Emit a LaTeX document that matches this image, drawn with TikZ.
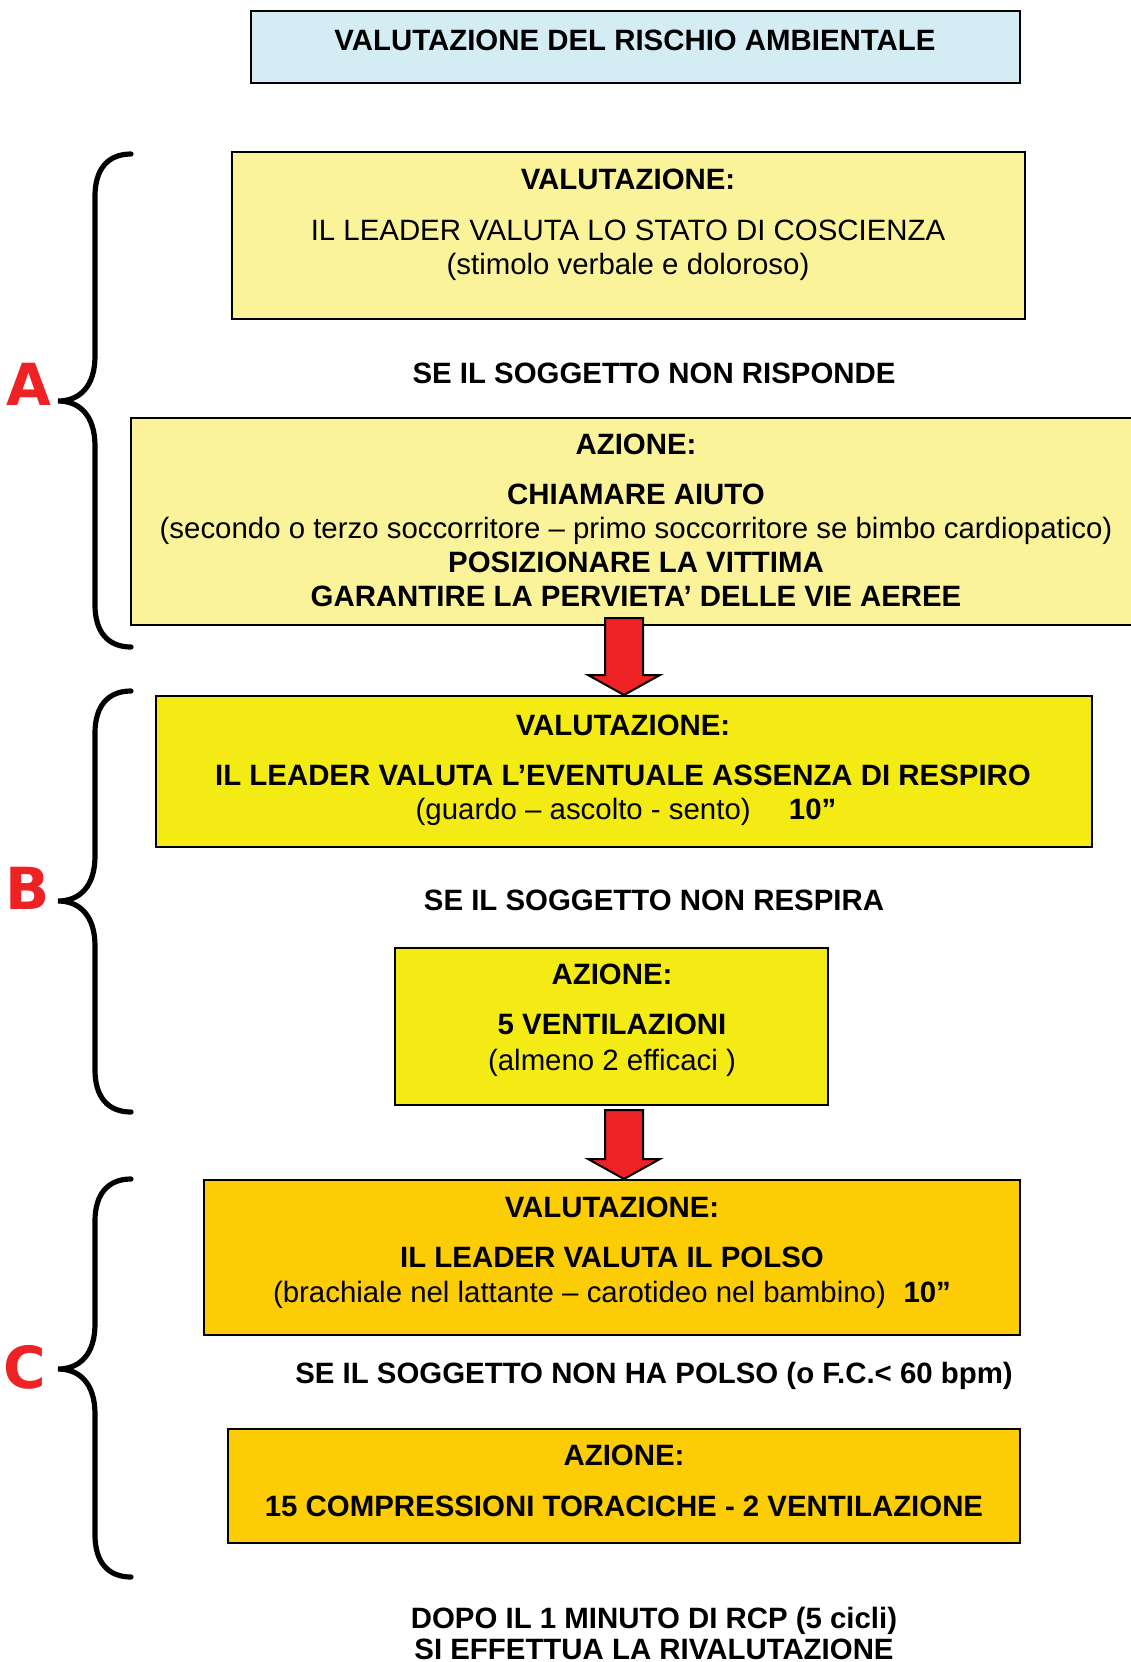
\documentclass[tikz,border=0pt]{standalone}
\usepackage{fontspec}
\setmainfont{Liberation Sans}
\newfontfamily\letterfont{DejaVu Sans}
\usetikzlibrary{fit}

\definecolor{skyfill}{RGB}{212,237,244}
\definecolor{paleyellow}{RGB}{250,243,154}
\definecolor{brightyellow}{RGB}{244,235,20}
\definecolor{deepyellow}{RGB}{252,204,5}
\definecolor{arrowred}{RGB}{238,33,36}

\tikzset{
  box/.style={draw, line width=1pt, inner sep=0pt},
  txt/.style={font=\fontsize{14.7}{17}\selectfont, inner sep=0pt, text height=10.5pt, text depth=0pt},
  bold/.style={txt, font=\fontsize{14.7}{17}\selectfont\bfseries},
  brace/.style={line width=2.6pt, line cap=round},
  letter/.style={text=arrowred, inner sep=0pt, font=\fontsize{29}{34}\selectfont\letterfont\bfseries},
  blockarrow/.style={fill=arrowred, draw, line width=1pt, line join=miter},
}

\begin{document}
\begin{tikzpicture}[x=0.5pt,y=-0.5pt]
    \useasboundingbox (0,0) rectangle (1131,1662);
    \clip (0,0) rectangle (1131,1662);

    % Top box
    \node[box, fill=skyfill, fit={(251,11) (1020,83)}] (rischio) {};
    \node[bold] (rischiot) at (635,40) {VALUTAZIONE DEL RISCHIO AMBIENTALE};

    % Block A
    \node[box, fill=paleyellow, fit={(232,152) (1025,319)}] (valA) {};
    \node[bold] (valAt) at (628,179) {VALUTAZIONE:};
    \node[txt] (valAl) at (628,230) {IL LEADER VALUTA LO STATO DI COSCIENZA};
    \node[txt] (valAs) at (628,264) {(stimolo verbale e doloroso)};

    \node[bold] (condA) at (654,373) {SE IL SOGGETTO NON RISPONDE};

    \node[box, fill=paleyellow, fit={(131,418) (1140,625)}] (azA) {};
    \node[bold] (azAt) at (636,444) {AZIONE:};
    \node[bold] (azA1) at (636,494) {CHIAMARE AIUTO};
    \node[txt] (azA2) at (636,528) {(secondo o terzo soccorritore -- primo soccorritore se bimbo cardiopatico)};
    \node[bold] (azA3) at (636,562) {POSIZIONARE LA VITTIMA};
    \node[bold] (azA4) at (636,596) {GARANTIRE LA PERVIETA’ DELLE VIE AEREE};

    % Block B
    \node[box, fill=brightyellow, fit={(156,696) (1092,847)}] (valB) {};
    \node[bold] (valBt) at (623,725) {VALUTAZIONE:};
    \node[bold] (valBl) at (623,775) {IL LEADER VALUTA L’EVENTUALE ASSENZA DI RESPIRO};
    \node[txt] (valBs) at (626,809) {(guardo -- ascolto - sento)\hspace{1.3em}\textbf{10”}};

    \node[bold] (condB) at (654,900) {SE IL SOGGETTO NON RESPIRA};

    \node[box, fill=brightyellow, fit={(395,948) (828,1105)}] (azB) {};
    \node[bold] (azBt) at (612,974) {AZIONE:};
    \node[bold] (azB1) at (612,1024) {5 VENTILAZIONI};
    \node[txt] (azB2) at (612,1060) {(almeno 2 efficaci )};

    % Block C
    \node[box, fill=deepyellow, fit={(204,1180) (1020,1335)}] (valC) {};
    \node[bold] (valCt) at (612,1207) {VALUTAZIONE:};
    \node[bold] (valCl) at (612,1257) {IL LEADER VALUTA IL POLSO};
    \node[txt] (valCs) at (612,1292) {(brachiale nel lattante -- carotideo nel bambino)\hspace{0.6em}\textbf{10”}};

    \node[bold] (condC) at (654,1373) {SE IL SOGGETTO NON HA POLSO (o F.C.< 60 bpm)};

    \node[box, fill=deepyellow, fit={(228,1429) (1020,1543)}] (azC) {};
    \node[bold] (azCt) at (624,1455) {AZIONE:};
    \node[bold] (azC1) at (624,1506) {15 COMPRESSIONI TORACICHE - 2 VENTILAZIONE};

    \node[bold] (fine1) at (654,1618) {DOPO IL 1 MINUTO DI RCP (5 cicli)};
    \node[bold] (fine2) at (654,1649) {SI EFFETTUA LA RIVALUTAZIONE};

    % Define tips of the red arrows
    \coordinate (tip1) at (valB.north -| 624,0);
    \coordinate (tip2) at (valC.north -| 624,0);

    % Draw the red arrows
    \draw[blockarrow] (tip1) -- ++(36,-20) -- ++(-17,0) -- ++(0,-57) -- ++(-38,0) -- ++(0,57) -- ++(-17,0) -- cycle;
    \draw[blockarrow] (tip2) -- ++(36,-20) -- ++(-17,0) -- ++(0,-49) -- ++(-38,0) -- ++(0,49) -- ++(-17,0) -- cycle;

    % Draw the braces
    \draw[brace] (131,154) .. controls (108,154) and (95,169) .. (95,196) -- (95,356) .. controls (95,386) and (80,401) .. (58,401)
                 .. controls (80,401) and (95,416) .. (95,446) -- (95,605) .. controls (95,632) and (108,647) .. (131,647);
    \draw[brace] (131,691) .. controls (108,691) and (95,706) .. (95,733) -- (95,856) .. controls (95,886) and (80,901) .. (58,901)
                 .. controls (80,901) and (95,916) .. (95,946) -- (95,1070) .. controls (95,1097) and (108,1112) .. (131,1112);
    \draw[brace] (131,1179) .. controls (108,1179) and (95,1194) .. (95,1221) -- (95,1324) .. controls (95,1354) and (80,1369) .. (58,1369)
                 .. controls (80,1369) and (95,1384) .. (95,1414) -- (95,1535) .. controls (95,1562) and (108,1577) .. (131,1577);

    % Add letters
    \node[letter] (letA) at (29,384) {A};
    \node[letter] (letB) at (28,888) {B};
    \node[letter] (letC) at (25,1367) {C};

\end{tikzpicture}
\end{document}
